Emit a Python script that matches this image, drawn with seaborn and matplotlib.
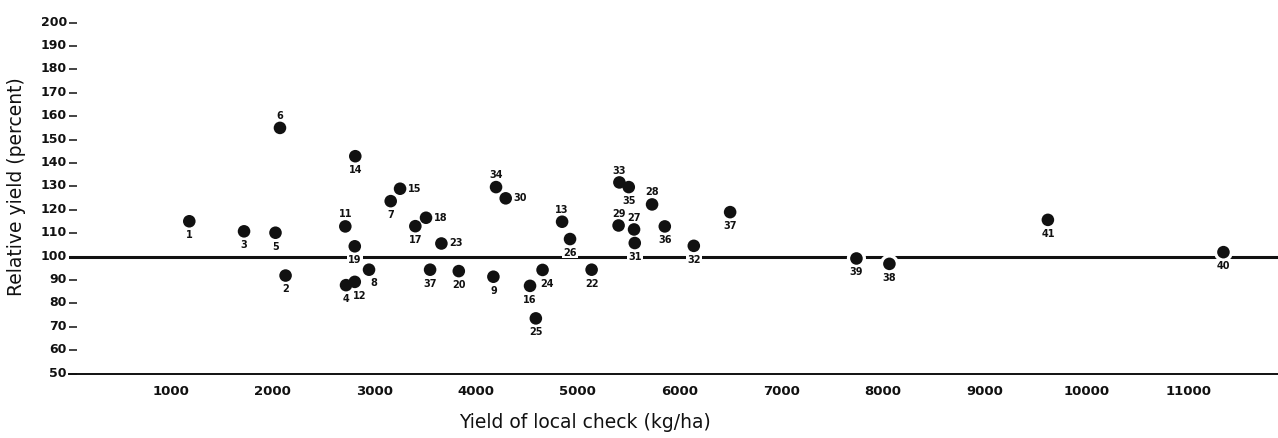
import matplotlib
matplotlib.use("Agg")
import matplotlib.pyplot as plt
import matplotlib.transforms as mtransforms
import pandas as pd
import seaborn as sns

# Entry numbers of the tested varieties (37 occurs at two sites)
entries = ["1", "2", "3", "4", "5", "6", "7", "8", "9", "11",
           "12", "13", "14", "15", "16", "17", "18", "19", "20", "22",
           "23", "24", "25", "26", "27", "28", "29", "30", "31", "32",
           "33", "34", "35", "36", "37", "37", "38", "39", "40", "41"]

# Yield of the local check variety (kg/ha)
check_yield = [1183, 2129, 1721, 2723, 2030, 2074, 3162, 2949, 4171, 2716,
               2809, 4846, 2814, 3254, 4531, 3404, 3509, 2809, 3831, 5136,
               3660, 4654, 4588, 4924, 5553, 5730, 5401, 4292, 5560, 6140,
               5409, 4197, 5501, 5855, 3549, 6497, 8062, 7738, 11344, 9619]

# Yield relative to the local check (percent)
relative_yield = [115.1, 91.9, 110.8, 87.8, 110.2, 155.0, 123.7, 94.4, 91.4, 112.9,
                  89.2, 114.9, 142.9, 129.0, 87.5, 113.0, 116.6, 104.4, 93.8, 94.4,
                  105.6, 94.3, 73.6, 107.5, 111.6, 122.3, 113.3, 124.9, 105.8, 104.6,
                  131.7, 129.7, 129.7, 112.9, 94.4, 119.0, 96.9, 99.2, 101.9, 115.7]

# Where each entry number sits relative to its dot
label_side = ["b", "b", "b", "b", "b", "a", "b", "br", "b", "a",
              "br", "a", "b", "r", "b", "b", "r", "b", "b", "b",
              "r", "br", "b", "b", "a", "a", "a", "r", "b", "b",
              "a", "a", "b", "b", "b", "b", "b", "b", "b", "b"]

x_ticks = [1000, 2000, 3000, 4000, 5000, 6000, 7000, 8000, 9000, 10000, 11000]
y_ticks = [50, 60, 70, 80, 90, 100, 110, 120, 130, 140, 150, 160, 170, 180, 190, 200]

df = pd.DataFrame({"entry": entries, "check": check_yield,
                   "relative": relative_yield, "side": label_side})

sns.set_style("white")
plt.rcParams["font.family"] = ["DejaVu Sans"]

ink = "#111111"
fig = plt.figure(figsize=(12.78, 4.39), dpi=100)
ax = fig.add_axes([0.0539, 0.1467, 0.9461, 0.8262])

# reference line: yield equal to the local check
ax.axhline(100, color=ink, lw=2.2, zorder=1)

# white halos interrupt the reference line around the dots
sns.scatterplot(data=df, x="check", y="relative", s=190, color="white",
                edgecolor="none", linewidth=0, zorder=2, legend=False, ax=ax)
sns.scatterplot(data=df, x="check", y="relative", s=82, color=ink,
                edgecolor="none", linewidth=0, zorder=4, legend=False, ax=ax)

offsets = {"b": ((0, -9.3), "center"),
           "a": ((0, 9.3), "center"),
           "r": ((5.5, 0.8), "left"),
           "br": ((3.2, -9.1), "center")}
for _, row in df.iterrows():
    (dx, dy), ha = offsets[row["side"]]
    ax.annotate(row["entry"], (row["check"], row["relative"]),
                xytext=(dx, dy), textcoords="offset points",
                ha=ha, va="center", fontsize=7, fontweight="bold", color=ink,
                zorder=3,
                bbox=dict(boxstyle="square,pad=0.15", fc="white", ec="none"))

ax.set_xlim(0, 11880)
ax.set_ylim(50, 205)
ax.set_xticks(x_ticks, labels=[str(v) for v in x_ticks])
ax.set_yticks(y_ticks, labels=[str(v) for v in y_ticks])

for side in ("top", "right", "left"):
    ax.spines[side].set_visible(False)
ax.spines["bottom"].set_color(ink)
ax.spines["bottom"].set_linewidth(1.4)

ax.tick_params(axis="x", direction="out", length=3.6, width=0.9, color=ink,
               pad=4, labelsize=9.5, labelcolor=ink)
ax.tick_params(axis="y", direction="in", length=5.5, width=1.1, color=ink,
               pad=1.5, labelsize=9, labelcolor=ink, left=True)
for lab in ax.get_xticklabels() + ax.get_yticklabels():
    lab.set_fontweight("bold")
shift = mtransforms.ScaledTranslation(0, 3 / 100, fig.dpi_scale_trans)
for lab in ax.get_yticklabels():
    lab.set_transform(lab.get_transform() + shift)

ax.set_xlabel("Yield of local check (kg/ha)", fontsize=13.5, color=ink)
ax.xaxis.label.set_va("center")
ax.xaxis.set_label_coords(0.4269, -0.1307)
ax.set_ylabel("Relative yield (percent)", fontsize=13.5, color=ink)
ax.yaxis.label.set_va("center")
ax.yaxis.set_label_coords(-0.0433, 0.517)

fig.savefig("out.png", dpi=100)
